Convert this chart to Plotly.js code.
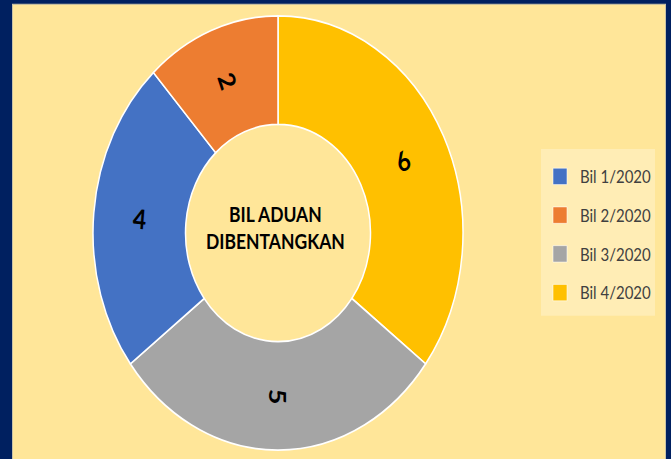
<!DOCTYPE html>
<html>
<head>
<meta charset="utf-8">
<script src="https://cdn.plot.ly/plotly-3.0.1.min.js"></script>
<style>
  html, body { margin: 0; padding: 0; overflow: hidden; background: #002060; }
  #wrap { width: 671px; height: 459px; overflow: hidden; }
  #chart { width: 671px; height: 391px; transform: scaleY(1.17391); transform-origin: 0 0; }
</style>
</head>
<body>
<div id="wrap"><div id="chart"></div></div>
<script>
// Data
const categories = ['Bil 1/2020', 'Bil 2/2020', 'Bil 3/2020', 'Bil 4/2020'];
const values = [4, 2, 5, 6];
const colors = ['#4472C4', '#ED7D31', '#A5A5A5', '#FFC000'];
// order of slices clockwise from 12 o'clock
const sliceOrder = [3, 2, 0, 1];
const centerTitle = ['BIL ADUAN', 'DIBENTANGKAN'];

const W = 671, H = 391;
const cx = 278, cy = 198.5, R = 185, HOLE = 0.5;

const orderedLabels = sliceOrder.map(i => categories[i]);
const orderedValues = sliceOrder.map(i => values[i]);
const orderedColors = sliceOrder.map(i => colors[i]);

const pie = {
  type: 'pie',
  labels: orderedLabels,
  values: orderedValues,
  marker: { colors: orderedColors, line: { color: '#FFFFFF', width: 1.5 } },
  hole: HOLE,
  sort: false,
  direction: 'clockwise',
  rotation: 0,
  textinfo: 'none',
  showlegend: false,
  hoverinfo: 'label+value',
  domain: { x: [(cx - R) / W, (cx + R) / W], y: [(H - cy - R) / H, (H - cy + R) / H] }
};

// value labels placed at each slice's mid-angle, radially oriented
const total = orderedValues.reduce((a, b) => a + b, 0);
let cum = 0;
const valueLabels = orderedValues.map(v => {
  const mid = (cum + v / 2) / total * 360;
  cum += v;
  const rad = mid * Math.PI / 180;
  const rMid = R * (1 + HOLE) / 2;
  const px = cx + rMid * Math.sin(rad);
  const py = cy - rMid * Math.cos(rad);
  let ang = mid - 90;
  while (ang > 90) ang -= 180;
  while (ang <= -90) ang += 180;
  return {
    xref: 'paper', yref: 'paper', x: px / W, y: 1 - py / H,
    xanchor: 'center', yanchor: 'middle', showarrow: false,
    text: '<b>' + v + '</b>', textangle: ang,
    font: { family: 'Lato, sans-serif', size: 23, color: '#000000' }
  };
});

const legendTraces = categories.map((c, i) => ({
  type: 'scatter',
  mode: 'markers',
  x: [null], y: [null],
  name: c,
  legendgroup: 'g' + i,
  marker: { symbol: 'square', size: 14, color: colors[i], line: { color: '#FFFFFF', width: 0.5 } },
  hoverinfo: 'skip'
}));

const layout = {
  width: W, height: H,
  margin: { l: 0, r: 0, t: 0, b: 0 },
  paper_bgcolor: '#002060',
  plot_bgcolor: 'rgba(0,0,0,0)',
  xaxis: { visible: false, range: [0, 1] },
  yaxis: { visible: false, range: [0, 1] },
  showlegend: true,
  legend: {
    x: 540 / W, y: 1 - 134 / H, xanchor: 'left', yanchor: 'top',
    bgcolor: 'rgba(0,0,0,0)', borderwidth: 0,
    font: { family: 'Lato, sans-serif', size: 15, color: '#404040' },
    tracegroupgap: 10.5,
    itemclick: false, itemdoubleclick: false
  },
  shapes: [{
    type: 'rect', xref: 'paper', yref: 'paper', layer: 'below',
    x0: 12.5 / W, x1: 665.5 / W, y0: -0.05, y1: 1 - 3.6 / H,
    fillcolor: '#FFE699', line: { color: '#C9C2A6', width: 1 }
  }, {
    type: 'rect', xref: 'paper', yref: 'paper', layer: 'below',
    x0: 541 / W, x1: 655 / W, y0: 1 - 269 / H, y1: 1 - 127 / H,
    fillcolor: '#FFEDB5', line: { width: 0 }
  }],
  annotations: [{
    xref: 'paper', yref: 'paper', x: 275 / W, y: 1 - 194 / H,
    xanchor: 'center', yanchor: 'middle', showarrow: false,
    text: '<b>' + centerTitle.join('<br>') + '</b>',
    font: { family: 'Lato, sans-serif', size: 17.5, color: '#000000' }
  }].concat(valueLabels)
};

Plotly.newPlot('chart', [pie].concat(legendTraces), layout, { displayModeBar: false, staticPlot: true });
</script>
</body>
</html>
